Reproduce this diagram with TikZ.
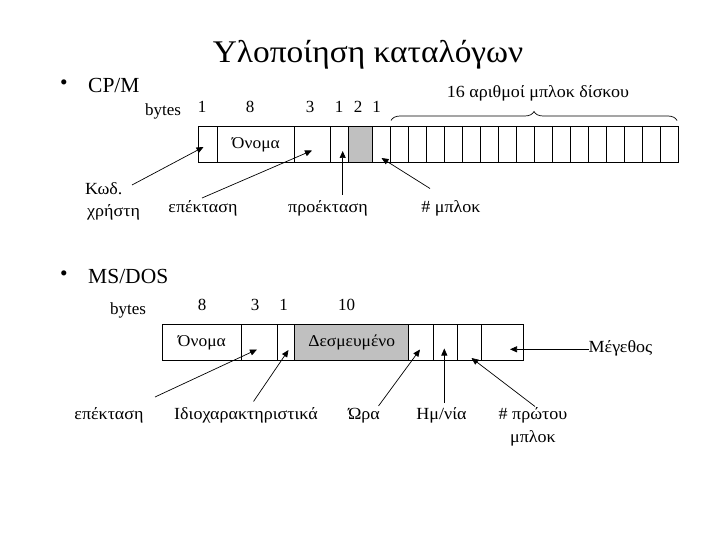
\documentclass[tikz,border=0pt]{standalone}
\usepackage{fontspec}
\setmainfont{Liberation Serif}
\newfontfamily\gkfont[FakeStretch=1.06]{Liberation Serif}
\usetikzlibrary{arrows.meta,decorations.pathreplacing}
\definecolor{cellgray}{RGB}{192,192,192}
\begin{document}
\begin{tikzpicture}[x=1pt,y=-1pt,
  cell/.style={draw=black,line width=0.8pt,inner sep=0pt,anchor=north west,font=\gkfont\fontsize{16.5}{18}\selectfont},
  cpcell/.style={cell,minimum height=35.5pt},
  mscell/.style={cell,minimum height=35.7pt},
  lbl/.style={font=\gkfont\fontsize{17}{19}\selectfont,inner sep=0pt,text height=12pt,text depth=4pt},
  num/.style={font=\fontsize{17}{19}\selectfont,inner sep=0pt},
  head/.style={font=\fontsize{21.5}{24}\selectfont,inner sep=0pt,anchor=west},
  arr/.style={line width=0.7pt,-{Triangle[length=7pt,width=6pt]}},
]
\useasboundingbox (0,0) rectangle (720,540);

% title and bullets
\node[font=\gkfont\fontsize{31.5}{35}\selectfont,inner sep=0pt] (title) at (368,55) {Υλοποίηση καταλόγων};
\node[head] (b1) at (60,85) {•};
\node[head] (cpm) at (88,85) {CP/M};
\node[head] (b2) at (60,276) {•};
\node[head] (msdos) at (88,276) {MS/DOS};

% ---------- CP/M ----------
\node[num] (cpbytes) at (163,111) {bytes};
\node[num] (n1) at (202,107) {1};
\node[num] (n8) at (250,107) {8};
\node[num] (n3) at (310,107) {3};
\node[num] (n4) at (339,107) {1};
\node[num] (n5) at (358,107) {2};
\node[num] (n6) at (376.5,107) {1};

\node[cpcell,minimum width=18.4pt] (cp1) at (198.3,126.5) {};
\node[cpcell,minimum width=77.6pt] (cp2) at (216.7,126.5) {Όνομα};
\node[cpcell,minimum width=35.7pt] (cp3) at (294.3,126.5) {};
\node[cpcell,minimum width=18.3pt] (cp4) at (330,126.5) {};
\node[cpcell,minimum width=24pt,fill=cellgray] (cp5) at (348.3,126.5) {};
\node[cpcell,minimum width=17.7pt] (cp6) at (372.3,126.5) {};
\foreach \i in {0,...,15}{
  \node[cpcell,minimum width=18pt] (blk\i) at ({390+18*\i},126.5) {};
}
\draw[line width=0.7pt,decorate,decoration={brace,amplitude=9pt}] (391,120.5) -- (677,120.5);
\node[lbl] (sixteen) at (538,94) {16 αριθμοί μπλοκ δίσκου};

\node[lbl,anchor=west] (kwd) at (85,191) {Κωδ.};
\node[lbl,anchor=west] (xrhsth) at (87,212) {χρήστη};
\node[lbl] (epek1) at (203,209) {επέκταση};
\node[lbl] (proek) at (328,209) {προέκταση};
\node[lbl] (mplok) at (451,209) {\# μπλοκ};

\coordinate (kwdS) at (132,185);
\coordinate (kwdT) at (203.5,147);
\coordinate (epek1S) at (202,198);
\coordinate (epek1T) at (312,150.5);
\coordinate (proekS) at (342.7,195);
\coordinate (proekT) at (342.7,151);
\coordinate (mplokS) at (430,188.5);
\coordinate (mplokT) at (381.5,158);
\draw[arr] (kwdS) -- (kwdT);
\draw[arr] (epek1S) -- (epek1T);
\draw[arr] (proekS) -- (proekT);
\draw[arr] (mplokS) -- (mplokT);

% ---------- MS/DOS ----------
\node[num] (msbytes) at (128,310) {bytes};
\node[num] (m8) at (202,305) {8};
\node[num] (m3) at (255,305) {3};
\node[num] (m1) at (283.5,305) {1};
\node[num] (m10) at (346.5,305) {10};

\node[mscell,minimum width=78.4pt] (ms1) at (162.3,324.3) {Όνομα};
\node[mscell,minimum width=36pt] (ms2) at (240.7,324.3) {};
\node[mscell,minimum width=17.6pt] (ms3) at (276.7,324.3) {};
\node[mscell,minimum width=114pt,fill=cellgray] (ms4) at (294.3,324.3) {Δεσμευμένο};
\node[mscell,minimum width=24.4pt] (ms5) at (408.3,324.3) {};
\node[mscell,minimum width=24pt] (ms6) at (432.7,324.3) {};
\node[mscell,minimum width=24pt] (ms7) at (456.7,324.3) {};
\node[mscell,minimum width=42pt] (ms8) at (480.7,324.3) {};

\node[lbl] (epek2) at (109,415) {επέκταση};
\node[lbl] (idio) at (246,415) {Ιδιοχαρακτηριστικά};
\node[lbl] (wra) at (364,415) {Ώρα};
\node[lbl] (hmnia) at (441.5,415) {Ημ/νία};
\node[lbl] (prwtou) at (533,415) {\# πρώτου};
\node[lbl] (prmplok) at (533,438) {μπλοκ};
\node[lbl,anchor=west] (megethos) at (588.5,348.5) {Μέγεθος};

\coordinate (epek2S) at (155,397);
\coordinate (epek2T) at (257,349.5);
\coordinate (idioS) at (253.5,401.5);
\coordinate (idioT) at (288.5,350);
\coordinate (wraS) at (378.5,406);
\coordinate (wraT) at (420,349.5);
\coordinate (hmniaS) at (444.3,402.5);
\coordinate (hmniaT) at (444.3,348.5);
\coordinate (prwtouS) at (535,406.5);
\coordinate (prwtouT) at (471.5,358);
\coordinate (megS) at (588.5,349.3);
\coordinate (megT) at (510,349.3);
\draw[arr] (epek2S) -- (epek2T);
\draw[arr] (idioS) -- (idioT);
\draw[arr] (wraS) -- (wraT);
\draw[arr] (hmniaS) -- (hmniaT);
\draw[arr] (prwtouS) -- (prwtouT);
\draw[arr] (megS) -- (megT);
\end{tikzpicture}
\end{document}
